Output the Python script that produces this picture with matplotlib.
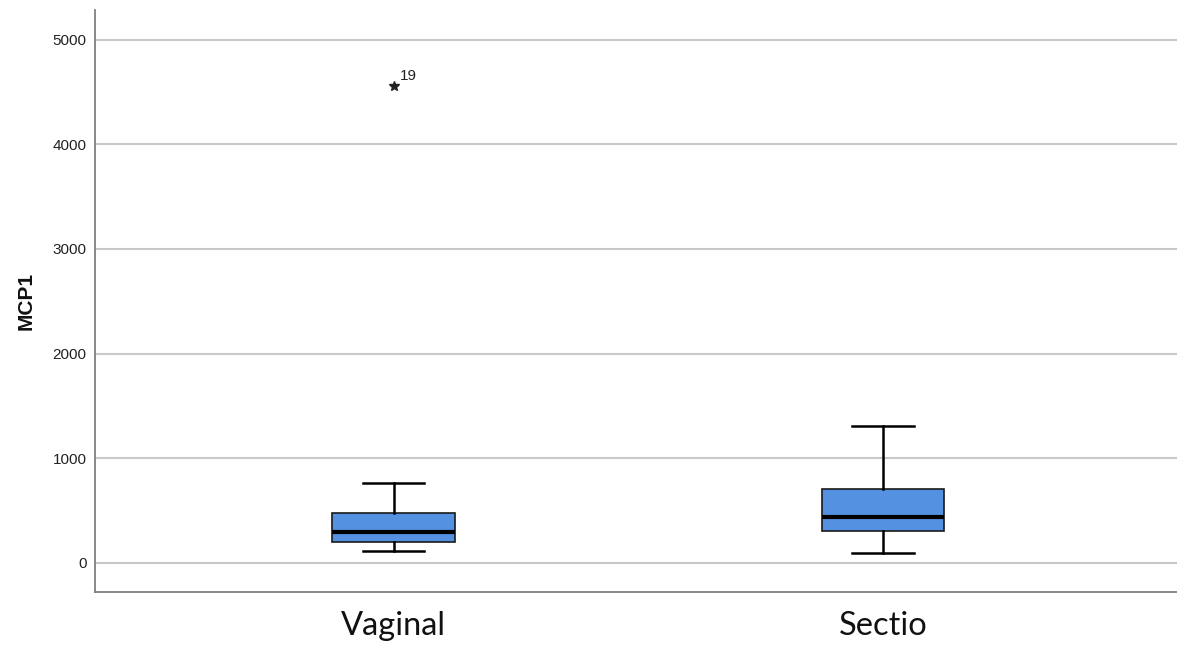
import matplotlib
matplotlib.use("Agg")
import matplotlib.pyplot as plt

# MCP1 summary per delivery mode
groups = ["Vaginal", "Sectio"]
whisker_low = [112, 100]
q1 = [201, 304]
median = [297, 435]
q3 = [473, 706]
whisker_high = [760, 1312]
outliers = [[4559], []]
outlier_ids = [["19"], []]

positions = [1, 2]
box_color = "#5591e1"

stats = []
for i, name in enumerate(groups):
    stats.append({
        "label": name,
        "whislo": whisker_low[i],
        "q1": q1[i],
        "med": median[i],
        "q3": q3[i],
        "whishi": whisker_high[i],
        "fliers": outliers[i],
    })

fig = plt.figure(figsize=(11.77, 6.48), dpi=100)
ax = fig.add_axes([95 / 1177, 1 - 592 / 648, 1 - 95 / 1177, (592 - 10) / 648])

ax.bxp(stats, positions=positions, widths=0.251, patch_artist=True,
       boxprops=dict(facecolor=box_color, edgecolor="#1a1a1a", linewidth=1.2),
       medianprops=dict(color="black", linewidth=3),
       whiskerprops=dict(color="black", linewidth=1.8),
       capprops=dict(color="black", linewidth=1.8),
       capwidths=0.125,
       flierprops=dict(marker="*", markersize=7, markerfacecolor="#222222",
                       markeredgecolor="#222222", linestyle="none"),
       zorder=3)

# case numbers next to extreme values
for pos, vals, ids in zip(positions, outliers, outlier_ids):
    for v, lab in zip(vals, ids):
        ax.annotate(lab, (pos, v), xytext=(4, 4), textcoords="offset points",
                    fontsize=11, family="Liberation Sans", color="#222222")

ax.set_xlim(0.389, 2.601)
ax.set_ylim(-277, 5282)
ax.set_yticks([0, 1000, 2000, 3000, 4000, 5000])
ax.set_yticklabels(["0", "1000", "2000", "3000", "4000", "5000"],
                   family="Liberation Sans", fontsize=11, color="#222222")
ax.tick_params(axis="y", length=0, pad=6)
ax.tick_params(axis="x", length=0, pad=14)
ax.set_xticks(positions)
ax.set_xticklabels(groups, family="Lato", fontsize=23.5, color="#111111")

ax.grid(axis="y", color="#c8c8c8", linewidth=1.5, zorder=0)
ax.set_axisbelow(True)
for side in ["top", "right"]:
    ax.spines[side].set_visible(False)
for side in ["left", "bottom"]:
    ax.spines[side].set_color("#808080")
    ax.spines[side].set_linewidth(1.3)

ax.set_ylabel("MCP1", family="Liberation Sans", fontsize=15, fontweight="bold",
              color="#111111", labelpad=12)

fig.savefig("out.png", dpi=100)
